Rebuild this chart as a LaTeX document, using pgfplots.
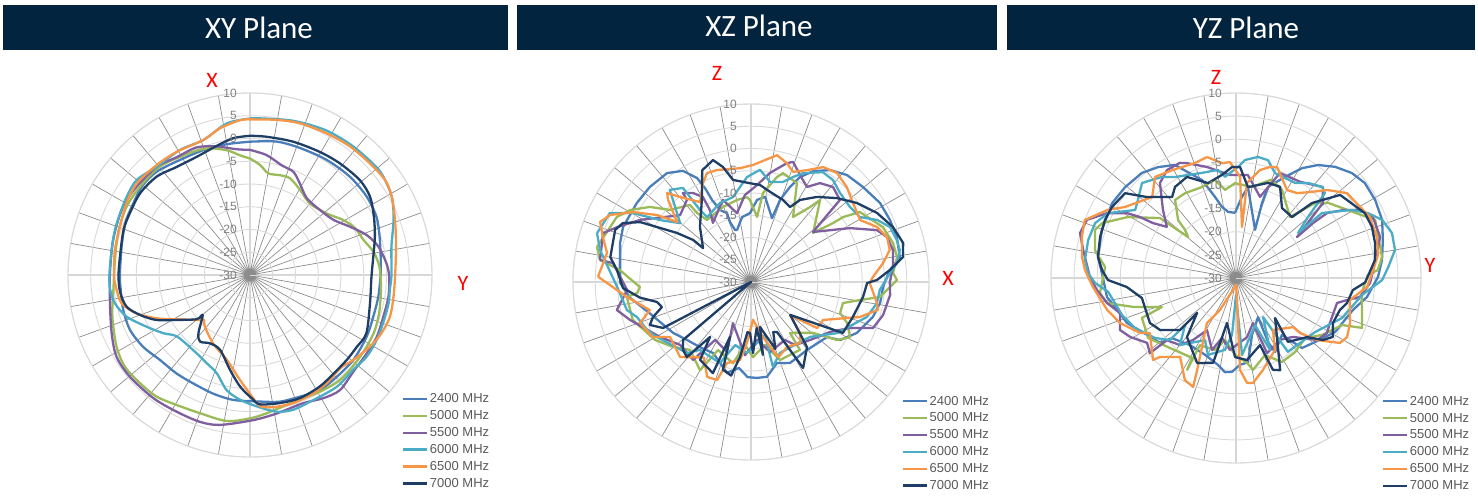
\documentclass[border=0pt]{standalone}
\usepackage{pgfplots}
\pgfplotsset{compat=1.18}
\usepgfplotslibrary{polar}
\usepackage{fontspec}
\setmainfont{Liberation Sans}
\newfontfamily\titlefont{Carlito}
\newcommand\noticklabel{}
\definecolor{c2400}{HTML}{4A7EBB}
\definecolor{c5000}{HTML}{9BBB59}
\definecolor{c5500}{HTML}{7F5FA0}
\definecolor{c6000}{HTML}{4BACC6}
\definecolor{c6500}{HTML}{F79646}
\definecolor{c7000}{HTML}{1F3E66}
\definecolor{titlebg}{HTML}{03243F}
\definecolor{spoke}{HTML}{8C8C8C}
\definecolor{ring}{HTML}{D9D9D9}
\definecolor{ticktext}{HTML}{808080}
\definecolor{legtext}{HTML}{595959}
\pgfplotsset{
 radar/.style={
  anchor=center, scale only axis, width=#1, height=#1,
  ymin=0, ymax=40, xtick={0,10,...,350}, ytick={0,5,...,40},
  xticklabel={\noticklabel}, yticklabel={\noticklabel},
  grid=major,
  x grid style={draw=spoke, line width=0.7bp},
  y grid style={draw=ring, line width=0.9bp},
  axis line style={draw=ring, line width=0.9bp},
  major tick length=0pt,
  y filter/.expression={y+30},
  clip=false,
  every axis plot/.append style={line width=2.3bp, line join=round},
  legend cell align=left,
  legend style={draw=none, fill=none, anchor=north west, inner sep=0pt, outer sep=0pt,
    font=\fontsize{13bp}{15bp}\selectfont, text=legtext, row sep=3.3bp, nodes={inner sep=1.5bp}},
  legend image code/.code={\draw[##1] (0bp,0bp) -- (24bp,0bp);},
 }
}
\tikzset{
 ticklab/.style={anchor=east, inner sep=0pt, font=\fontsize{12bp}{14bp}\selectfont, text=ticktext},
 redlab/.style={inner sep=0pt, font=\titlefont\fontsize{22bp}{24bp}\selectfont, text=red},
 titletext/.style={inner sep=0pt, font=\titlefont\fontsize{31bp}{33bp}\selectfont, text=white},
}
\begin{document}
\begin{tikzpicture}
\path[use as bounding box] (0bp,0bp) rectangle (1478bp,-499bp);
\fill[titlebg] (3bp,-5bp) rectangle (508bp,-50bp);
\fill[titlebg] (517bp,-5bp) rectangle (997bp,-50bp);
\fill[titlebg] (1007bp,-5bp) rectangle (1475bp,-50bp);
\node[titletext] at (259bp,-28bp) {XY Plane};
\node[titletext] at (759bp,-26bp) {XZ Plane};
\node[titletext] at (1246bp,-28bp) {YZ Plane};

% ---------------- XY plane ----------------
\begin{polaraxis}[radar=364bp, at={(250bp,-275bp)}, legend style={at={(0.918,0.178)}},
  every axis plot/.append style={smooth, tension=0.5}]
\addplot[c2400] coordinates {(90,-0.7) (78.7,-0.1) (68.5,0.0) (56.3,0.4) (44.5,0.8) (33.9,0.9) (24.7,0.6) (16.5,-0.3) (8,-1.0) (0,-1.3) (-9.6,-1.4) (-18.7,-1.4) (-27.9,-1.0) (-39.4,-0.6) (-49.6,-0.6) (-58.7,-0.4) (-67.7,-1.1) (-76.7,-1.4) (-85.5,-2.1) (-97.6,-2.3) (-107.2,-2.7) (-117.6,-3.1) (-126.7,-3.0) (-136.6,-2.8) (-146.1,-1.7) (-155.4,-1.0) (-164.6,-1.1) (-173.4,-1.4) (-180,-1.4) (-192.5,-1.1) (-202.5,-0.3) (-210,0.0) (-219.2,0.7) (-227.9,0.6) (-238.7,-0.4) (-249.5,-0.7) (-259.9,-0.8) (-270,-0.7)};
\addplot[c5000] coordinates {(90,-4.4) (84.8,-5.7) (79.8,-7.3) (73.3,-7.1) (67.5,-7.0) (59.5,-8.3) (50.1,-9.5) (38.8,-8.4) (30.5,-6.2) (24,-4.7) (17.2,-3.9) (10.7,-2.4) (3.7,-1.5) (-5.1,-1.1) (-15.1,-0.5) (-23.7,0.0) (-31.6,0.1) (-40.1,0.2) (-49.4,0.4) (-59,-0.1) (-71.1,-0.5) (-83.1,0.6) (-90,1.5) (-99.1,2.5) (-109.9,2.3) (-119.4,2.8) (-127.5,3.7) (-135.4,3.9) (-143.7,4.1) (-151.7,3.3) (-163.2,1.6) (-175.1,0.1) (-187.7,-0.1) (-198.9,0.5) (-209,1.0) (-218.8,1.0) (-230.3,1.0) (-242.4,0.0) (-251.1,-0.6) (-259.4,-2.1) (-265.2,-3.6) (-270,-4.4)};
\addplot[c5500] coordinates {(90,-2.5) (82.1,-3.4) (73.9,-4.9) (67.2,-5.4) (61.4,-7.1) (53.5,-9.0) (42.9,-9.0) (33.4,-8.0) (25.8,-5.6) (18.9,-2.9) (12.5,-1.1) (4.9,0.1) (-0.7,0.6) (-8.9,0.8) (-17.4,0.7) (-26,1.0) (-33.9,0.9) (-43.1,1.1) (-52,2.1) (-59.3,1.5) (-67.4,0.5) (-79.1,1.0) (-88.7,1.9) (-101.3,3.6) (-108.8,4.1) (-118.2,4.1) (-128.1,4.4) (-139.7,4.6) (-148.5,4.4) (-157.1,3.0) (-168.6,1.4) (-180,0.8) (-193,1.0) (-202.7,1.4) (-209.8,1.7) (-217.9,1.6) (-229.3,1.4) (-238.1,0.5) (-247.3,0.4) (-255.4,-0.8) (-263.9,-2.2) (-270,-2.5)};
\addplot[c6000] coordinates {(86.3,4.5) (74.4,5.2) (62.7,5.9) (52.6,6.2) (43.8,6.4) (37.5,6.5) (28.9,5.6) (21,3.8) (11.3,1.7) (0,1.1) (-6.1,0.9) (-11.6,1.1) (-19.9,1.1) (-27.2,1.3) (-35,1.3) (-42.6,0.8) (-52.2,1.1) (-63.1,0.8) (-72.2,1.1) (-79,0.6) (-87.1,-1.1) (-94.6,-2.5) (-101.5,-4.2) (-108.7,-7.2) (-116,-8.4) (-127,-9.3) (-140,-9.0) (-146,-7.1) (-153.4,-4.6) (-161.3,-1.4) (-168,0.3) (-173.9,0.9) (-180,0.9) (-190.2,0.9) (-198.4,1.3) (-205.4,1.6) (-212.4,2.1) (-220,2.5) (-229.3,1.4) (-240.8,1.5) (-251,1.4) (-261.3,3.7) (-270,4.4) (-273.7,4.5)};
\addplot[c6500] coordinates {(90,4.2) (80.2,4.6) (71.8,5.1) (61.6,5.4) (52.1,5.8) (42.9,6.0) (35.1,6.3) (29,5.6) (20.8,4.1) (11,2.7) (0,1.9) (-8.6,1.9) (-16.6,2.1) (-23.9,1.6) (-30.8,0.7) (-39.4,-0.6) (-46,-1.5) (-53.7,-0.9) (-61.8,-0.5) (-71.3,-0.3) (-80,-0.5) (-85.6,-1.1) (-88.5,-2.9) (-95.4,-6.8) (-105.4,-10.7) (-118.2,-12.9) (-131,-14.9) (-136,-15.9) (-139.8,-14.7) (-148.8,-11.2) (-155.1,-7.4) (-161.3,-3.7) (-167.5,-1.1) (-175,-0.4) (-180,-0.1) (-190.5,0.2) (-200.4,0.5) (-210.2,1.4) (-219,2.0) (-229.7,1.7) (-239.3,1.5) (-251,1.4) (-258.4,2.9) (-266.3,4.1) (-270,4.2)};
\addplot[c7000] coordinates {(90,0.6) (83.1,0.6) (72,0.8) (60.4,1.1) (51.1,1.5) (40.8,1.9) (33.1,1.5) (25.2,0.1) (17,-1.3) (8.5,-2.6) (-0.8,-3.3) (-13.3,-2.9) (-26.6,-1.4) (-33.9,-1.7) (-41.3,-1.7) (-49.7,-1.6) (-57.9,-1.1) (-67.9,-0.8) (-76.8,-1.1) (-85.6,-1.5) (-89.2,-2.9) (-95.1,-5.4) (-101.9,-8.7) (-111.8,-12.3) (-120.3,-12.6) (-126.9,-11.7) (-131.5,-12.9) (-139.8,-16.4) (-140.3,-14.8) (-148.5,-11.1) (-154.3,-7.2) (-160,-4.3) (-165.6,-2.0) (-172.7,-1.2) (-180,-1.1) (-189.5,-1.1) (-199.6,-0.5) (-207.2,-0.3) (-216.6,0.1) (-226.5,-0.2) (-235.9,-1.3) (-245.7,-1.5) (-255.5,-0.7) (-263,0.3) (-270,0.6)};
\legend{2400 MHz,5000 MHz,5500 MHz,6000 MHz,6500 MHz,7000 MHz}
\end{polaraxis}

% ---------------- XZ plane ----------------
\begin{polaraxis}[radar=356bp, at={(751bp,-282bp)}, legend style={at={(0.924,0.184)}}]
\addplot[c2400] coordinates {(0,0.1) (4.9,1.3) (9.5,3.9) (17.1,4.3) (24,4.2) (31.5,4.0) (40.3,3.0) (48.1,2.3) (54.8,0.8) (60.8,-1.5) (65,-4.0) (67.7,-6.9) (70.5,-10.4) (71.8,-14.9) (80.6,-10.6) (85.8,-11.5) (90.8,-14.5) (97.9,-15.3) (105,-17.9) (107,-17.8) (109.3,-15.7) (109.2,-13.6) (113.3,-12.4) (115.4,-9.6) (116.1,-6.5) (117.4,-3.7) (121.5,-0.7) (127.6,0.9) (136.8,1.2) (145.3,1.2) (156.7,1.3) (163.4,0.7) (180.4,-0.6) (187.5,-2.6) (196.2,-5.9) (213.2,-9.1) (222.2,-10.6) (232,-11.4) (242,-11.9) (255.2,-8.9) (262,-10.5) (268,-8.6) (273.6,-8.4) (279.6,-8.4) (287.8,-10.9) (295.7,-9.8) (309.5,-10.2) (324.1,-8.9) (326.9,-6.1) (334.3,-3.6) (344,-1.5) (350.8,-0.6) (357.8,-0.3) (360,0.1)};
\addplot[c5000] coordinates {(167.2,5.5) (154.1,3.5) (149.2,1.6) (143.4,-1.7) (138.4,-5.6) (128.4,-7.9) (128,-10.3) (125.4,-12.9) (110.5,-12.0) (99.7,-11.3) (92.7,-10.9) (90.7,-11.6) (84.7,-15.3) (82.3,-9.8) (76.1,-5.7) (73.6,-4.5) (65.1,-5.5) (57.1,-12.6) (51.8,-8.6) (49.9,-5.9) (38.3,-12.2) (35.7,-7.3) (35.2,-4.7) (32.7,-0.9) (22.6,2.1) (15.4,3.1) (9.7,3.3) (3.6,2.0) (0.8,2.8) (-6.6,-0.8) (-9.4,-5.2) (-12.9,-8.8) (-19.2,-8.8) (-23.1,-6.5) (-29.1,-4.5) (-34,-6.7) (-39.4,-12.0) (-52.6,-15.6) (-54.2,-11.2) (-69.6,-11.3) (-77.5,-15.5) (-88.5,-13.1) (-95.4,-15.8) (-102.5,-11.3) (-115.9,-13.0) (-120,-7.1) (-131.9,-9.5) (-140.2,-7.2) (-148.9,-4.8) (-162.2,-2.1) (-173.1,-1.9) (-174.5,-4.3) (-177.4,-5.0) (-185.2,-0.4) (-188.3,4.3) (-192.8,5.5)};
\addplot[c5500] coordinates {(171.7,4.3) (161.7,5.0) (157.7,2.5) (150.8,-1.4) (136.7,-8.1) (128,-6.6) (127.4,-4.8) (123.1,-6.1) (119.5,-8.1) (119.7,-11.4) (122.8,-14.2) (108.9,-10.5) (101.5,-14.2) (94,-10.4) (86.5,-8.2) (80.1,-5.1) (73.2,-2.1) (70.7,-1.4) (63,-4.3) (59.5,-5.2) (55.1,-2.9) (49.2,-1.8) (42.7,-2.8) (38.9,-12.1) (28.6,-4.7) (22.4,0.6) (18.3,2.2) (12.7,2.7) (6,2.1) (0,1.2) (-5.3,1.4) (-14,0.6) (-20.7,-0.7) (-24.9,-5.5) (-32.3,-9.0) (-44.5,-11.4) (-55,-12.7) (-59.6,-14.9) (-74.8,-13.7) (-84,-16.9) (-94.7,-13.5) (-113.7,-19.9) (-108.9,-13.4) (-121.8,-14.7) (-126.6,-8.2) (-138.4,-8.7) (-148.9,-6.1) (-162.6,-1.5) (-168.2,0.8) (-176.3,-2.1) (-187.8,1.3) (-188.3,4.3)};
\addplot[c6000] coordinates {(162.4,6.3) (153.9,5.3) (149.7,0.7) (145.7,-5.3) (140.3,-9.3) (131.4,-2.4) (125.9,-3.9) (125.3,-10.2) (124.1,-12.4) (111.4,-10.9) (102,-10.5) (92.2,-6.4) (85.4,-4.7) (79.2,-7.1) (72.3,-6.4) (68.2,-4.6) (64.5,-2.9) (56.8,-0.5) (51.2,-0.6) (45,-1.7) (37.1,-2.1) (30.8,-1.5) (26.2,1.6) (21.6,3.6) (16,4.1) (12.1,4.2) (7.4,3.1) (3.7,1.3) (-3.5,-1.0) (-9.5,-1.3) (-16.8,-2.8) (-30.7,-7.5) (-43,-11.9) (-67.8,-12.8) (-75.5,-10.3) (-75.2,-17.7) (-93.2,-14.0) (-104,-15.4) (-111,-10.5) (-127,-10.9) (-132,-8.5) (-149.7,-5.5) (-155.2,-4.3) (-162.9,-3.2) (-167.3,-1.4) (-177.9,0.1) (-192,4.7) (-197.6,6.3)};
\addplot[c6500] coordinates {(178,4.4) (168.6,3.0) (163.1,4.8) (158.3,6.5) (154.6,5.1) (149.3,0.8) (144.5,-4.1) (140.9,-8.6) (135.3,-3.8) (133.3,-2.5) (129.9,-5.1) (122.5,-8.7) (115.9,-5.3) (112,-3.6) (106.9,-3.7) (95.5,-4.3) (89,-3.7) (78.4,-0.9) (73.2,-2.1) (69.1,-3.5) (63.4,-1.9) (57.9,0.5) (51.7,1.2) (44.7,0.3) (37.8,-1.0) (29.6,-1.8) (23.6,0.9) (18.3,2.2) (13,2.0) (8.2,0.0) (2.3,-2.6) (-0.5,-3.3) (-9.5,-1.3) (-12.4,-0.8) (-17.8,-4.3) (-20.6,-7.0) (-27.8,-11.7) (-34.9,-11.9) (-40.2,-18.5) (-46.1,-14.1) (-51.2,-12.4) (-61,-13.3) (-70,-12) (-77.7,-17.3) (-87,-21.5) (-93.8,-16.3) (-98,-12.3) (-106.5,-11.0) (-109.1,-6.7) (-114.8,-6.5) (-122,-10) (-133.4,-6.8) (-145.8,-8.0) (-150.7,-4.7) (-159.7,-3.4) (-164.5,-6.4) (-173.1,-1.9) (-182,4.4)};
\addplot[c7000] coordinates {(0.9,-1.7) (4.9,1.3) (9.3,4.6) (14.4,5.3) (21.2,4.2) (28.7,2.3) (36.7,-0.3) (44.3,-3.0) (52.2,-5.8) (59.1,-8.5) (62.5,-11.0) (68.7,-10.2) (78,-9.3) (84.7,-8.1) (90.6,-7.8) (100,-6.7) (103.7,-3.4) (107.3,-1.3) (113.6,-2.6) (120.9,-8.5) (132.8,-13.1) (144.7,-16.8) (144,-13.9) (146.5,-10.0) (149.7,-5.5) (151.6,-1.7) (155.3,1.7) (159,2.7) (170,2.1) (175,0.2) (182.7,-1.2) (188,-4.8) (192,-8.4) (195.7,-9.2) (199.7,-6.6) (203,-5.3) (207.6,-7.7) (214,-30) (220.5,-9.9) (225,-8.4) (229.5,-7.8) (233.3,-14.6) (236.8,-9.1) (247.3,-7.8) (249,-16.8) (252.3,-9.3) (258,-8.5) (261.7,-13.0) (266,-18.7) (269,-18.5) (271.6,-14.0) (277,-19.6) (279.3,-13.4) (281.3,-19.7) (290,-14) (294,-17.7) (297.5,-17.3) (301.2,-7.4) (310.7,-10.7) (320,-18.5) (331,-6.4) (341,-5.8) (352.4,-4.6) (359.5,-3.9) (360.9,-1.7)};
\legend{2400 MHz,5000 MHz,5500 MHz,6000 MHz,6500 MHz,7000 MHz}
\end{polaraxis}

% ---------------- YZ plane ----------------
\begin{polaraxis}[radar=370bp, at={(1236bp,-278bp)}, legend style={at={(0.895,0.185)}}]
\addplot[c2400] coordinates {(90.9,-15.9) (96.9,-15.6) (101.2,-14.3) (104.5,-11.9) (109.1,-7.6) (118.4,-2.2) (125.1,-0.7) (131.8,0.5) (140.7,1.0) (148.8,1.3) (160.3,0.8) (171.3,0.2) (179.6,-1.2) (188.4,-1.8) (195,-3.4) (202.4,-4.5) (209.9,-6.6) (220.5,-8.4) (223.2,-11.0) (235.5,-12.4) (248.1,-12.1) (258.3,-10.8) (263.3,-9.5) (267.6,-9.7) (272.6,-11.2) (278.1,-11.6) (285.7,-17.2) (299.4,-20.3) (296.6,-14.5) (297.8,-11.9) (308.9,-14.2) (313.3,-9.2) (321,-8.0) (331.4,-5.6) (344.7,-3.8) (351.7,-1.4) (360.4,0.7) (367,1.8) (374.5,2.8) (381.7,4.0) (389.3,4.5) (396.4,4.6) (402.2,3.8) (408.3,2.2) (414,0.2) (419,-2.3) (424.1,-5.7) (430.6,-9.1) (430.9,-12.8) (428.4,-18.8) (442.5,-10.2) (445.8,-12.4) (450.9,-15.9)};
\addplot[c5000] coordinates {(102.1,-8.3) (110.5,-9.0) (121,-8.6) (128,-8.6) (135,-12.3) (136.7,-14.9) (139.5,-16.4) (141.7,-9.1) (150.5,-3.2) (157.7,1.3) (161.2,2.2) (168.8,1.1) (175.2,-1.6) (186.3,-0.4) (191,-1.6) (195.7,-6.9) (201.4,-12.8) (203,-7.9) (214.3,-7.0) (226.7,-9.2) (241.2,-10.3) (242,-7.5) (241.7,-13.5) (253.7,-13.8) (260,-16.4) (269.3,-13.4) (277.4,-11.5) (280.5,-9.8) (290.6,-12.2) (298.7,-9.3) (308.6,-9.5) (319,-10.2) (326.5,-7.7) (336.1,-4.9) (338.4,-0.7) (344.9,-1.8) (353.7,-2.6) (361.3,-1.5) (363.2,0.7) (368.2,1.9) (382.6,2.6) (391.3,-1.7) (399.2,-4.3) (403.5,-6.5) (408.5,-12.4) (422.4,-8.5) (430.2,-7.4) (440,-10.0) (450.6,-9.5) (457.1,-10.8) (462.1,-8.3)};
\addplot[c5500] coordinates {(116,-2.3) (122.6,-2.3) (128.7,-3.7) (137,-8.4) (143.5,-11.4) (146.5,-8.5) (147.6,-5.4) (149.2,-2.6) (153.3,1.2) (158.7,4.6) (163.9,5.1) (169.6,3.6) (179.6,1.6) (184.9,0.2) (191,-1.6) (196.8,-3.8) (204.1,-2.5) (209.1,-3.8) (216.1,-6.2) (221.1,-5.3) (222,-9.9) (230.1,-11.1) (235.3,-13.7) (240.9,-17.1) (251.6,-13.6) (256.9,-16.7) (265.2,-14.4) (280.6,-17.0) (290.7,-19.6) (292.5,-12.4) (305.4,-13.6) (314,-12.3) (322.6,-7.9) (328.9,-7.0) (334.4,-7.5) (346.1,-7.5) (348.8,-5.5) (351.3,-2.9) (357.9,-1.0) (363.3,-0.3) (375.9,2.4) (384,2.4) (388.7,0.6) (392.4,-2.6) (395.5,-5.8) (395.5,-9.5) (393.9,-14.1) (400.8,-5.2) (406.3,-2.8) (416.3,-5.0) (427.3,-5.4) (433.5,-11.7) (443.4,-7.6) (453.3,-7.7) (464.6,-5.2) (473.1,-3.0) (476,-2.3)};
\addplot[c6000] coordinates {(85.6,-4.4) (89,-6.0) (96.2,-8.0) (99.5,-6.3) (108,-6.1) (121.1,-4.5) (126.2,-2.9) (134.7,-1.1) (141.5,-2.9) (146,-3.7) (153.1,1.0) (158.7,2.7) (165.6,3.0) (173.2,2.9) (178.1,2.0) (182,0.5) (186.2,-2.2) (198,-4.1) (206.3,-5.6) (216.5,-8.2) (223.2,-10.4) (222.7,-15.0) (230.1,-11.1) (243.4,-15.0) (250,-12.3) (261.3,-14.3) (266,-17.7) (270,-26.3) (274.5,-13.3) (292,-19.0) (295.3,-12.8) (304.7,-19.7) (305.1,-10.5) (325.6,-9.3) (339.3,-5.5) (352.3,-2.5) (359.2,1.6) (364.1,3.0) (370,4.9) (376.1,5.1) (381.7,4.0) (386.2,1.8) (390.4,-0.9) (397.1,-6.7) (396,-13.4) (400.3,-9.6) (403.7,-3.4) (406.6,-2.9) (412.8,-4.2) (418.2,-5.8) (429.6,-5.8) (434.8,-3.6) (439.7,-3.4) (445.6,-4.4)};
\addplot[c6500] coordinates {(103.5,-3.1) (96.9,-5.0) (93,-4.9) (87.7,-8.1) (83.3,-18.9) (83.4,-9.3) (77.5,-6.1) (73,-4.9) (69.7,-4.4) (59.9,-8.0) (54.3,-7.4) (49.3,-5.5) (44,-2.6) (37.4,0.2) (24.5,1.8) (16.2,1.7) (9.2,1.1) (3.3,-0.3) (-3.9,-1.6) (-10.9,-4.9) (-21.5,-3.5) (-28,-2.8) (-32,-3.5) (-37.4,-7.9) (-40.7,-11.8) (-40.7,-13.7) (-54.6,-16.2) (-61.6,-12.3) (-73.6,-9.3) (-80.8,-7.0) (-84,-7.2) (-87.5,-10.1) (-88,-28.5) (-116.6,-22.3) (-122.8,-18.4) (-112.9,-8.4) (-111.5,-4.7) (-116.6,-5.3) (-125.3,-9.1) (-133.9,-6.3) (-135.4,-4.8) (-147.4,-7.9) (-150.2,-6.1) (-158.8,-3.1) (-166.1,-1.3) (-176.4,1.0) (-183,2.7) (-187.8,3.6) (-194.9,4.5) (-201,5.0) (-208,1.4) (-212.6,-1.5) (-224,-4.8) (-231.3,-2.0) (-239.3,-2.9) (-250.4,-3.6) (-256.5,-3.1)};
\addplot[c7000] coordinates {(-2.2,-2.1) (7.4,0.3) (14.1,1.0) (20.6,1.4) (26.7,1.2) (38.6,-1.2) (44.6,-6.9) (47.4,-12.1) (56.7,-11.9) (64.2,-8.1) (71.4,-8.3) (82.5,-10.2) (87.9,-6.0) (92.1,-6.0) (97.7,-7.5) (106.4,-8.6) (115.9,-5.7) (123.8,-6.3) (128.3,-7.7) (137.7,-4.0) (142.6,0.2) (150.2,0.9) (156.1,1.0) (163.2,0.7) (171.3,0.2) (176.6,-1.0) (180.9,-2.3) (184.7,-6.3) (192,-9.2) (198.3,-9.3) (207.6,-9.0) (214.4,-10.1) (222.9,-13.5) (221.9,-18.7) (230.3,-13.4) (245.4,-9.8) (254.9,-11.0) (258.7,-20.1) (269.3,-12.9) (277.6,-12.1) (289.7,-14.6) (291.9,-8.6) (295.6,-7.9) (314.3,-17.9) (309.1,-12.2) (320.3,-10.0) (324.5,-6.9) (328.7,-5.5) (335.1,-6.9) (342.9,-6.5) (347.3,-5.4) (354.1,-4.6) (358,-2.1)};
\legend{2400 MHz,5000 MHz,5500 MHz,6000 MHz,6500 MHz,7000 MHz}
\end{polaraxis}

% radial tick labels
\foreach \i in {0,...,8}{
  \pgfmathtruncatemacro{\v}{5*\i-30}
  \node[ticklab] at (237bp,{-275bp+\i*22.75bp}) {\v};
  \node[ticklab] at (737bp,{-282bp+\i*22.25bp}) {\v};
  \node[ticklab] at (1222bp,{-278bp+\i*23.125bp}) {\v};
}
% red direction labels
\node[redlab] at (212bp,-80bp) {X};
\node[redlab] at (463bp,-283bp) {Y};
\node[redlab] at (717bp,-73bp) {Z};
\node[redlab] at (948bp,-278bp) {X};
\node[redlab] at (1216bp,-77bp) {Z};
\node[redlab] at (1430bp,-265bp) {Y};
\end{tikzpicture}
\end{document}
